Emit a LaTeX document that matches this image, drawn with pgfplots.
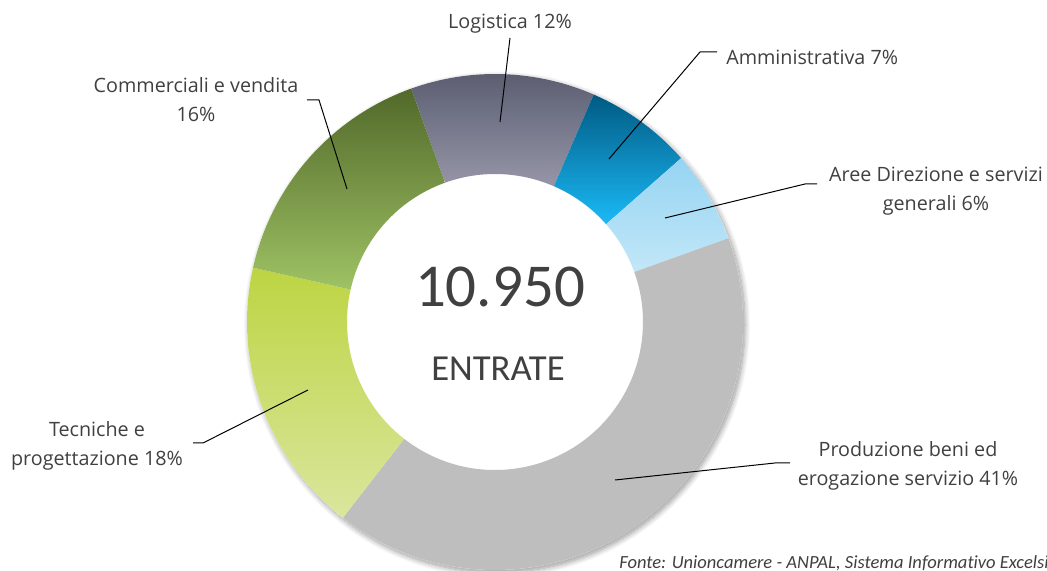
\documentclass[border=0pt]{standalone}
\usepackage{pgfplots}
\pgfplotsset{compat=1.18}
\usepackage{pgfplotstable}
\usepackage{fontspec}
\setmainfont{Open Sans}
\newfontfamily\calfont[Ligatures=NoCommon]{Carlito}
\usetikzlibrary{shadows.blur}
\definecolor{txt}{HTML}{404040}
\definecolor{c0t}{HTML}{585A6E}\definecolor{c0b}{HTML}{9696A8}
\definecolor{c1t}{HTML}{005A82}\definecolor{c1b}{HTML}{1BBAF7}
\definecolor{c2t}{HTML}{96D4F2}\definecolor{c2b}{HTML}{C2E7F8}
\definecolor{c3t}{HTML}{BEBEBE}\definecolor{c3b}{HTML}{BEBEBE}
\definecolor{c4t}{HTML}{BDD443}\definecolor{c4b}{HTML}{DAE69D}
\definecolor{c5t}{HTML}{52692A}\definecolor{c5b}{HTML}{9EC264}
\pgfplotstableread{
label value
Logistica 12
Amministrativa 7
AreeDirezione 6
Produzione 41
Tecniche 18
Commerciali 16
}\datatable
\tikzset{lbl/.style={text=txt, font=\fontsize{14.8}{21.75}\selectfont, inner sep=0pt}}
\begin{document}
\begin{tikzpicture}
\gdef\cum{109.75}
\foreach \i in {0,...,5}{%
  \pgfplotstablegetelem{\i}{value}\of\datatable
  \pgfmathsetmacro\aa{\cum}%
  \pgfmathsetmacro\bb{\cum-3.6*\pgfplotsretval}%
  \expandafter\xdef\csname sa\i\endcsname{\aa}%
  \expandafter\xdef\csname sb\i\endcsname{\bb}%
  \xdef\cum{\bb}%
}
\begin{axis}[
  scale only axis, width=785.25pt, height=428.25pt,
  xmin=0, xmax=1047, ymin=0, ymax=571,
  hide axis, clip=false,
]
\fill[white, blur shadow={shadow xshift=1.5pt, shadow yshift=-2pt, shadow blur steps=10, shadow blur radius=4pt, shadow opacity=40}]
  (axis cs:495,249) circle[radius=186pt];
\pgfplotsinvokeforeach{0,...,5}{%
  \shade[top color=c#1t, bottom color=c#1b]
    (axis cs:{495+248*cos(\csname sa#1\endcsname)},{249+248*sin(\csname sa#1\endcsname)})
    arc[start angle=\csname sa#1\endcsname, end angle=\csname sb#1\endcsname, radius=186pt]
    -- (axis cs:{495+148*cos(\csname sb#1\endcsname)},{249+148*sin(\csname sb#1\endcsname)})
    arc[start angle=\csname sb#1\endcsname, end angle=\csname sa#1\endcsname, radius=111pt]
    -- cycle;
}
% leader lines
\draw[black, line width=0.75pt] (axis cs:510,533) -- (axis cs:500,449);
\draw[black, line width=0.75pt] (axis cs:609,412) -- (axis cs:700,519) -- (axis cs:717,519);
\draw[black, line width=0.75pt] (axis cs:665,353) -- (axis cs:805,387) -- (axis cs:817,387);
\draw[black, line width=0.75pt] (axis cs:615,91) -- (axis cs:775,108) -- (axis cs:790,108);
\draw[black, line width=0.75pt] (axis cs:308,181) -- (axis cs:203,128) -- (axis cs:193,128);
\draw[black, line width=0.75pt] (axis cs:347,382) -- (axis cs:319,471) -- (axis cs:307,471);
% labels
\node[lbl, align=center] at (axis cs:510,547) {Logistica 12\%};
\node[lbl, anchor=west] at (axis cs:726,514) {Amministrativa 7\%};
\node[lbl, align=center] at (axis cs:936,380) {Aree Direzione e servizi\\generali 6\%};
\node[lbl, align=center] at (axis cs:908,105) {Produzione beni ed\\erogazione servizio 41\%};
\node[lbl, align=center] at (axis cs:97,125) {Tecniche e\\progettazione 18\%};
\node[lbl, align=center] at (axis cs:196,471) {Commerciali e vendita\\16\%};
\node[text=txt, font=\calfont\fontsize{45.7}{50}\selectfont] at (axis cs:500,284) {10.950};
\node[text=txt, font=\calfont\fontsize{27.5}{30}\selectfont] at (axis cs:498,202) {ENTRATE};
\node[anchor=west, inner sep=0pt, text=txt, font=\calfont\fontsize{13.9}{16}\selectfont\itshape] at (axis cs:619,8) {Fonte: Unioncamere - ANPAL, Sistema Informativo Excelsior};
\end{axis}
\pgfresetboundingbox
\path (0,0) rectangle (785.25pt,428.25pt);
\end{tikzpicture}
\end{document}
